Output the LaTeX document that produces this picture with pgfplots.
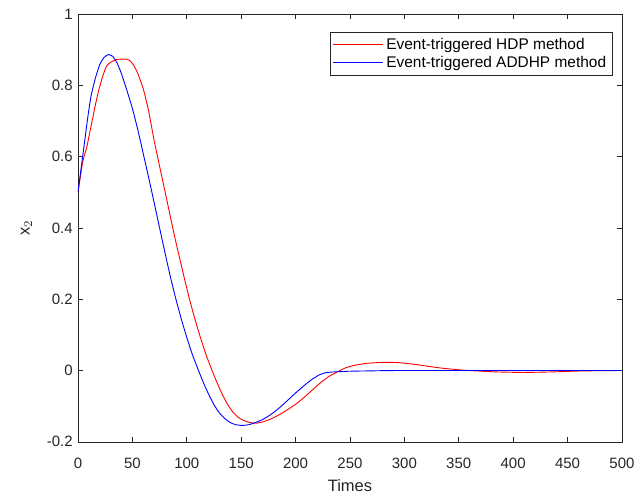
\documentclass[border=0pt]{standalone}
\usepackage{pgfplots}
\pgfplotsset{compat=1.18}
\usepackage{fontspec}
\setmainfont{Liberation Sans}
\definecolor{axgray}{rgb}{0.15,0.15,0.15}
\begin{document}
\begin{tikzpicture}
\path[use as bounding box] (-52pt,-36pt) rectangle (371.4pt,294.6pt);
\begin{axis}[
  at={(0,0)}, anchor=south west,
  scale only axis,
  width=362.7pt, height=285.3pt,
  xmin=0, xmax=500, ymin=-0.2, ymax=1,
  xtick={0,50,...,500},
  ytick={-0.2,0,0.2,0.4,0.6,0.8,1},
  yticklabels={-0.2,0,0.2,0.4,0.6,0.8,1},
  /pgf/number format/assume math mode=true,
  tick align=inside, tick pos=both,
  major tick length=3.5pt,
  axis line style={axgray, line width=0.4pt},
  every tick/.style={axgray, line width=0.4pt},
  tick label style={font=\fontsize{10}{12}\selectfont, text=axgray},
  xticklabel style={yshift=-7pt},
  xlabel={Times}, ylabel={x$_2$},
  label style={font=\fontsize{11}{13}\selectfont, text=axgray},
  xlabel style={yshift=-1pt},
  ylabel style={yshift=3pt},
  legend style={at={(0.982,0.958)}, anchor=north east, draw=axgray, line width=0.4pt,
    font=\fontsize{10.3}{12.4}\selectfont, inner sep=1.8pt, row sep=-1pt,
    legend cell align=left},
  legend image code/.code={\draw[#1, line width=0.6pt] (0pt,0pt) -- (33pt,0pt);},
]
\addplot[red, line width=0.6pt, smooth, tension=0.3] coordinates {
(0,0.5)(2,0.54)(4,0.58)(6,0.605)(8,0.625)(10,0.655)(13,0.70)(16,0.745)(19,0.785)
(22,0.818)(25,0.845)(27,0.857)(30,0.864)(34,0.871)(38,0.873)(45,0.873)(48,0.868)
(51,0.857)(55,0.833)(60,0.79)(65,0.727)(70,0.645)(75,0.573)(80,0.502)(85,0.43)
(90,0.36)(95,0.295)(97.5,0.262)(102.5,0.2)(107.5,0.144)(112.5,0.093)(117.5,0.046)
(122.5,0.006)(127.5,-0.032)(132.5,-0.066)(137.5,-0.095)(142.5,-0.117)(147.5,-0.132)
(153,-0.141)(158,-0.146)(164,-0.1475)(170,-0.144)(178,-0.135)(185,-0.124)(192,-0.111)
(200,-0.095)(208,-0.075)(216,-0.053)(223,-0.034)(231,-0.016)(239,-0.003)(246,0.0076)
(255,0.015)(265,0.02)(277,0.0225)(285,0.023)(295,0.022)(310,0.017)(332,0.0075)
(350,0.002)(365,-0.001)(385,-0.004)(409,-0.0055)(435,-0.004)(460,-0.0015)(480,-0.0005)(500,0)
};
\addlegendentry{Event-triggered HDP method}
\addplot[blue, line width=0.6pt, smooth, tension=0.3] coordinates {
(0,0.5)(3,0.57)(6,0.64)(9,0.71)(12,0.77)(16,0.82)(20,0.858)(24,0.878)(28,0.886)
(32,0.881)(36,0.862)(40,0.832)(45,0.785)(50,0.735)(55,0.675)(60,0.608)(67,0.513)
(75,0.40)(80,0.33)(85,0.262)(90,0.2)(95,0.144)(100,0.093)(105,0.046)(110,0.006)
(115,-0.032)(120,-0.066)(125,-0.096)(130,-0.119)(135,-0.135)(140,-0.146)(145,-0.152)
(151,-0.154)(157,-0.152)(163,-0.146)(170,-0.137)(177,-0.124)(185,-0.105)(193,-0.083)
(200,-0.063)(208,-0.042)(215,-0.025)(222,-0.012)(228,-0.006)(235,-0.004)(250,-0.002)
(270,-0.001)(300,0)(500,0)
};
\addlegendentry{Event-triggered ADDHP method}
\end{axis}
\end{tikzpicture}
\end{document}
